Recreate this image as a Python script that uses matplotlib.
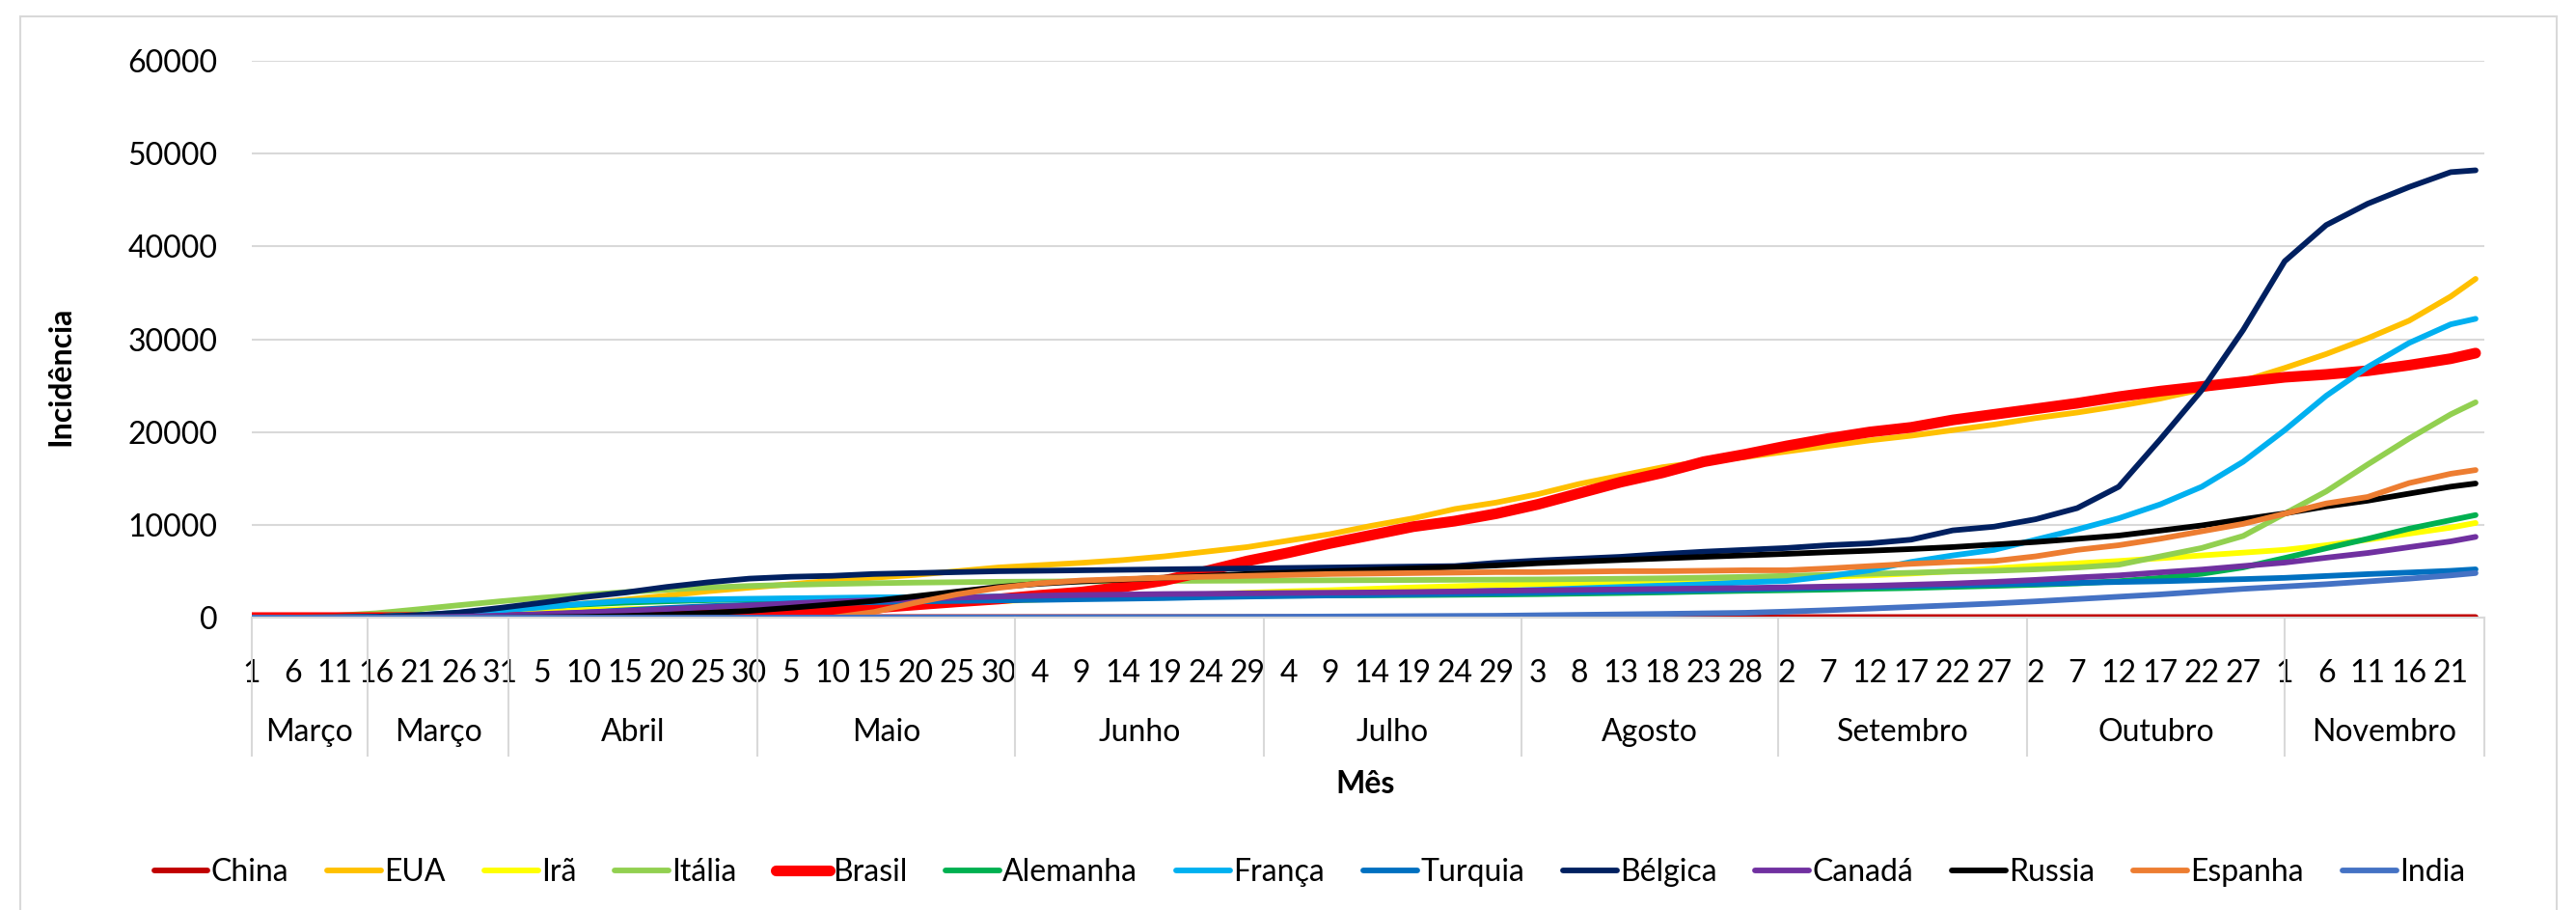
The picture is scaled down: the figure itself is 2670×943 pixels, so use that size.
import matplotlib
matplotlib.use('Agg')
import matplotlib.pyplot as plt
import matplotlib.transforms as mtransforms
from matplotlib.patches import Rectangle
import pandas as pd

plt.rcParams['font.family'] = ['Lato', 'DejaVu Sans']

# eixo de categorias: um ponto por dia, de 1 de marco a 24 de novembro de 2020
dias = pd.date_range('2020-03-01', '2020-11-24', freq='D')
# dias (a cada 5 dias + o ultimo dia)
amostra = list(pd.date_range('2020-03-01', '2020-11-21', freq='5D')) + [pd.Timestamp('2020-11-24')]

# grupos de meses do eixo (o Excel repete "Março")
grupos = ['Março', 'Março', 'Abril', 'Maio', 'Junho', 'Julho',
          'Agosto', 'Setembro', 'Outubro', 'Novembro']
inicio_grupos = ['2020-03-01', '2020-03-15', '2020-04-01', '2020-05-01', '2020-06-01',
                 '2020-07-01', '2020-08-01', '2020-09-01', '2020-10-01', '2020-11-01']

paises = ['China', 'EUA', 'Irã', 'Itália', 'Brasil', 'Alemanha', 'França',
          'Turquia', 'Bélgica', 'Canadá', 'Russia', 'Espanha', 'India']

china = [55, 56, 56, 56, 57, 57, 57, 57, 58, 58,
         59, 59, 59, 59, 59, 59, 59, 59, 59, 59,
         59, 59, 59, 59, 59, 59, 59, 59, 59, 59,
         60, 60, 60, 60, 60, 60, 60, 60, 60, 60,
         60, 60, 60, 60, 60, 60, 60, 60, 60, 60,
         60, 60, 61, 61, 61]
eua = [0, 0, 3, 14, 80, 260, 570, 1020, 1500, 1930,
       2370, 2840, 3230, 3600, 3980, 4300, 4600, 5000, 5400, 5650,
       5900, 6200, 6600, 7100, 7600, 8300, 9000, 9900, 10700, 11700,
       12400, 13300, 14400, 15300, 16200, 16800, 17300, 17900, 18500, 19100,
       19600, 20200, 20800, 21500, 22100, 22800, 23600, 24600, 25500, 26900,
       28400, 30100, 32000, 34600, 36500]
ira = [12, 56, 107, 178, 245, 350, 530, 690, 810, 910,
       990, 1060, 1130, 1180, 1280, 1390, 1510, 1620, 1770, 1950,
       2090, 2230, 2350, 2500, 2680, 2830, 2950, 3100, 3250, 3380,
       3500, 3600, 3700, 3800, 3900, 4000, 4100, 4250, 4400, 4550,
       4750, 5000, 5300, 5600, 5850, 6100, 6400, 6700, 7000, 7300,
       7800, 8400, 9050, 9700, 10200]
italia = [28, 77, 207, 462, 888, 1335, 1755, 2140, 2450, 2740,
          3005, 3240, 3410, 3530, 3630, 3710, 3770, 3815, 3860, 3885,
          3905, 3930, 3950, 3970, 3985, 4005, 4020, 4035, 4055, 4075,
          4095, 4115, 4150, 4190, 4235, 4300, 4390, 4500, 4600, 4720,
          4830, 4965, 5050, 5200, 5400, 5700, 6600, 7500, 8800, 11200,
          13600, 16500, 19300, 21900, 23200]
brasil = [0, 0, 0, 0, 10, 10, 30, 50, 90, 130,
          190, 280, 410, 540, 760, 1040, 1370, 1700, 2000, 2400,
          2750, 3300, 4000, 5000, 6100, 7000, 8000, 8900, 9800, 10400,
          11200, 12200, 13400, 14600, 15600, 16800, 17600, 18500, 19300, 20000,
          20500, 21300, 21900, 22500, 23100, 23800, 24400, 24900, 25400, 25900,
          26200, 26600, 27200, 27900, 28500]
alemanha = [2, 8, 23, 88, 265, 529, 865, 1200, 1420, 1610,
            1755, 1880, 1960, 2010, 2060, 2100, 2140, 2170, 2195, 2220,
            2240, 2260, 2290, 2330, 2350, 2370, 2390, 2410, 2430, 2460,
            2490, 2530, 2590, 2650, 2720, 2810, 2890, 2950, 3020, 3110,
            3190, 3310, 3420, 3540, 3690, 3920, 4280, 4720, 5410, 6420,
            7470, 8490, 9580, 10500, 11050]
franca = [2, 6, 30, 100, 220, 450, 780, 1100, 1500, 1800,
          1900, 1970, 2030, 2080, 2130, 2180, 2200, 2240, 2270, 2300,
          2330, 2370, 2400, 2440, 2480, 2520, 2570, 2630, 2700, 2780,
          2880, 3000, 3150, 3300, 3450, 3600, 3800, 3950, 4450, 5100,
          6000, 6700, 7300, 8400, 9500, 10700, 12200, 14100, 16800, 20200,
          23900, 27000, 29600, 31600, 32200]
turquia = [0, 0, 0, 1, 11, 41, 155, 309, 538, 788,
           1027, 1229, 1373, 1478, 1574, 1670, 1747, 1795, 1853, 1910,
           1978, 2035, 2102, 2198, 2266, 2333, 2390, 2448, 2506, 2563,
           2621, 2678, 2736, 2803, 2870, 2947, 3043, 3120, 3216, 3302,
           3398, 3475, 3581, 3658, 3744, 3840, 3917, 4032, 4147, 4282,
           4483, 4685, 4858, 5040, 5200]
belgica = [0, 2, 27, 90, 260, 550, 1050, 1600, 2200, 2700,
           3300, 3800, 4200, 4400, 4500, 4700, 4800, 4900, 5000, 5050,
           5100, 5150, 5200, 5250, 5300, 5350, 5400, 5450, 5500, 5550,
           5900, 6150, 6350, 6550, 6850, 7100, 7300, 7500, 7800, 8000,
           8400, 9400, 9800, 10600, 11800, 14100, 19200, 24500, 31000, 38400,
           42300, 44600, 46400, 48000, 48200]
canada = [0, 0, 1, 10, 32, 100, 214, 397, 554, 704,
          904, 1108, 1308, 1528, 1733, 1862, 1986, 2139, 2263, 2359,
          2435, 2483, 2540, 2569, 2617, 2655, 2684, 2712, 2760, 2817,
          2894, 2941, 2989, 3037, 3094, 3142, 3190, 3266, 3343, 3419,
          3543, 3667, 3849, 4068, 4326, 4546, 4871, 5176, 5558, 5931,
          6456, 6962, 7592, 8213, 8700]
russia = [0, 0, 0, 0, 2, 5, 16, 37, 81, 168,
          322, 511, 727, 1060, 1430, 1795, 2300, 2800, 3300, 3650,
          3900, 4100, 4300, 4500, 4700, 4850, 5000, 5150, 5300, 5450,
          5620, 5860, 6040, 6210, 6380, 6550, 6710, 6870, 7050, 7210,
          7390, 7600, 7870, 8150, 8490, 8840, 9380, 9930, 10600, 11230,
          11980, 12600, 13360, 14110, 14450]
espanha = [0, 0, 0, 0, 0, 0, 0, 0, 0, 0,
           0, 0, 0, 0, 0, 600, 1600, 2500, 3200, 3700,
           4000, 4150, 4300, 4400, 4500, 4600, 4700, 4750, 4800, 4850,
           4900, 4900, 4950, 5000, 5000, 5050, 5100, 5100, 5300, 5550,
           5800, 6000, 6100, 6600, 7300, 7800, 8500, 9300, 10100, 11200,
           12300, 13000, 14500, 15500, 15900]
india = [0, 0, 0, 0, 0, 0, 0, 0, 0, 1,
         2, 3, 5, 7, 10, 14, 18, 23, 28, 35,
         45, 55, 65, 75, 90, 100, 120, 140, 160, 180,
         200, 250, 300, 350, 400, 460, 520, 650, 800, 970,
         1150, 1330, 1520, 1750, 2000, 2250, 2500, 2800, 3100, 3350,
         3600, 3900, 4200, 4550, 4800]

series = [china, eua, ira, italia, brasil, alemanha, franca,
          turquia, belgica, canada, russia, espanha, india]
cores = ['#C00000', '#FFC000', '#FFFF00', '#92D050', '#FF0000', '#00B050', '#00B0F0',
         '#0070C0', '#002060', '#7030A0', '#000000', '#ED7D31', '#4472C4']

FS = 23
GRID = '#D9D9D9'

fig = plt.figure(figsize=(26.7, 9.43), dpi=100)
ax = fig.add_axes([0.09757, 0.32131, 0.86667, 0.61188])

x = [(d - dias[0]).days for d in amostra]
linhas = []
for nome, valores, cor in zip(paises, series, cores):
    lw = 8 if nome == 'Brasil' else 4.2
    ln, = ax.plot(x, valores, color=cor, lw=lw, label=nome,
                  solid_capstyle='round', solid_joinstyle='round')
    linhas.append(ln)

ax.set_xlim(0, len(dias))
ax.set_ylim(0, 60000)
ax.set_yticks(range(0, 60001, 10000))
ax.tick_params(axis='y', length=0, pad=25, labelsize=FS)
ax.yaxis.grid(True, color=GRID, lw=1.5)
ax.set_axisbelow(True)
for s in ['top', 'right', 'left']:
    ax.spines[s].set_visible(False)
ax.spines['bottom'].set_color(GRID)
ax.spines['bottom'].set_linewidth(1.5)

# rotulos de dia a cada 5 dias
pos = list(range(0, len(dias), 5))
ax.set_xticks(pos)
ax.set_xticklabels([str(dias[p].day) for p in pos])
ax.tick_params(axis='x', length=0, pad=31, labelsize=FS)

# segundo nivel do eixo: meses com separadores
trans = mtransforms.blended_transform_factory(ax.transData, ax.transAxes)
limites = [(pd.Timestamp(d) - dias[0]).days for d in inicio_grupos] + [len(dias)]
for i, nome in enumerate(grupos):
    a, b = limites[i], limites[i + 1]
    ax.text((a + b) / 2, -0.206, nome, transform=trans, ha='center', va='center', fontsize=FS)
for b in limites:
    ax.plot([b, b], [0, -0.248], transform=trans, color=GRID, lw=1.5, clip_on=False)

fig.text(0.5299, 0.1389, 'Mês', ha='center', va='center', fontsize=FS, fontweight='bold')
fig.text(0.0236, 0.5864, 'Incidência', ha='center', va='center', rotation=90,
         fontsize=FS, fontweight='bold')

fig.legend(handles=linhas, ncol=13, loc='center', bbox_to_anchor=(0.5084, 0.0414),
           frameon=False, fontsize=FS, handlelength=1.75, handletextpad=0.1,
           columnspacing=1.25)

# borda da area do grafico
fig.patches.append(Rectangle((21 / 2670, -0.02), (2650 - 21) / 2670, 1 - 17 / 943 + 0.02,
                             transform=fig.transFigure, fill=False, ec=GRID, lw=1.5))

fig.savefig('out.png', dpi=100)
